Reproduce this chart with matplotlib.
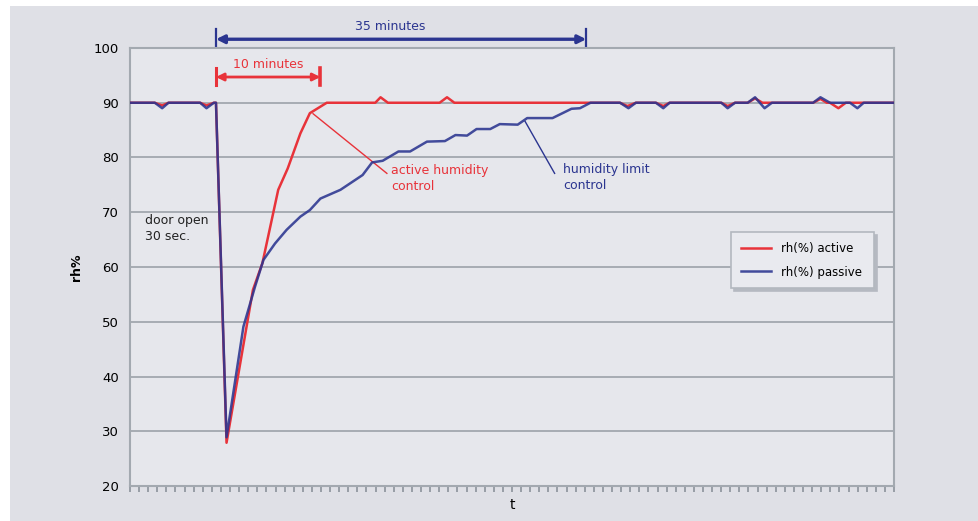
import numpy as np
import matplotlib.pyplot as plt
from matplotlib.patches import Rectangle

plt.rcParams['font.family'] = ['DejaVu Sans']

# time in minutes, t=0 when door opens
t_active = [-8.2, -5.8, -5.1, -4.5, -1.5, -0.9, -0.2, 0.0, 1.0, 2.8, 3.5, 4.4, 5.9, 6.8,
            8.0, 8.9, 10.5, 15.1, 15.6, 16.3, 21.2, 21.9, 22.6, 38.3, 39.0, 39.8, 41.7,
            42.4, 43.0, 47.9, 48.5, 49.2, 50.4, 51.1, 51.8, 56.6, 57.3, 57.9, 58.2, 59.0,
            59.7, 64.3]
rh_active = [90, 90, 89.5, 90, 90, 89.5, 90, 90, 27.9, 48.0, 55.8, 60.7, 74.1, 78.0,
             84.4, 88.1, 90, 90, 91, 90, 90, 91, 90, 90, 89.4, 90, 90,
             89.4, 90, 90, 89.4, 90, 90, 90.8, 90, 90, 90.7, 90, 90, 89,
             90, 90]

t_passive = [-8.2, -5.8, -5.1, -4.5, -1.5, -0.9, -0.2, 0.0, 1.0, 2.6, 3.7, 4.5, 5.6, 6.7,
             8.0, 8.9, 9.9, 11.8, 13.9, 14.8, 15.8, 17.3, 18.4, 20.0, 21.7, 22.7, 23.8,
             24.7, 26.0, 26.9, 28.6, 29.5, 31.9, 33.7, 34.5, 35.5, 38.3, 39.1, 39.8,
             41.7, 42.4, 43.0, 47.9, 48.5, 49.2, 50.4, 51.1, 52.0, 52.7, 56.6, 57.3,
             58.2, 60.1, 60.8, 61.4, 64.3]
rh_passive = [90, 90, 89, 90, 90, 89, 90, 90, 28.9, 49.1, 56.4, 61.3, 64.3, 66.8,
              69.2, 70.4, 72.5, 74.1, 76.8, 79.1, 79.4, 81.1, 81.1, 82.9, 83.0, 84.1, 84.0,
              85.2, 85.2, 86.1, 86.0, 87.2, 87.2, 88.9, 89.0, 90, 90, 89, 90,
              90, 89, 90, 90, 89, 90, 90, 91, 89, 90, 90, 91,
              90, 90, 89, 90, 90]

red = '#e8333a'
blue = '#2b3590'
xmin, xmax = -8.15, 64.27

fig = plt.figure(figsize=(9.79, 5.21), dpi=100)
fig.patch.set_facecolor('white')
fig.patches.append(Rectangle((10/979, 0), 1, 1 - 6/521, transform=fig.transFigure,
                             facecolor='#dfe0e6', edgecolor='none', zorder=-10))
ax = fig.add_axes([130/979, 1 - 486/521, 764/979, 438/521])
ax.set_facecolor('#e6e7ec')

ax.plot(t_active, rh_active, color=red, lw=1.8, label='rh(%) active', zorder=3)
ax.plot(t_passive, rh_passive, color=blue, lw=1.8, alpha=0.88, label='rh(%) passive', zorder=4)

ax.set_xlim(xmin, xmax)
ax.set_ylim(20, 100)
ax.set_yticks(np.arange(20, 101, 10))
ax.set_xticks(np.linspace(xmin, xmax, 85))
ax.set_xticklabels([])
ax.tick_params(axis='x', direction='out', length=4, width=1.2, color='#8c939b')
ax.tick_params(axis='y', length=0, pad=8, labelsize=9.5)
ax.grid(axis='y', color='#a7acb3', lw=1.4)
ax.set_axisbelow(True)
for s in ax.spines.values():
    s.set_color('#a3a9b0')
    s.set_linewidth(1.5)

ax.set_ylabel('rh%', fontsize=9, fontweight='bold', labelpad=8)
ax.set_xlabel('t', fontsize=10, labelpad=1)

# 35 minutes arrow (passive)
ax.annotate('', xy=(35.1, 101.6), xytext=(0, 101.6),
            arrowprops=dict(arrowstyle='<|-|>', color=blue, lw=2.4, shrinkA=0, shrinkB=0,
                            mutation_scale=12), annotation_clip=False)
ax.plot([0, 0], [100.4, 103.5], color=blue, lw=1.6, clip_on=False)
ax.plot([35.1, 35.1], [100.4, 103.5], color=blue, lw=1.6, clip_on=False)
ax.text(16.5, 104.0, '35 minutes', color=blue, fontsize=9, ha='center', va='center')

# 10 minutes arrow (active)
ax.annotate('', xy=(9.9, 94.7), xytext=(0, 94.7),
            arrowprops=dict(arrowstyle='<|-|>', color=red, lw=2.0, shrinkA=0, shrinkB=0,
                            mutation_scale=11), annotation_clip=False)
ax.plot([0, 0], [93.2, 96.3], color=red, lw=2.2)
ax.plot([9.9, 9.9], [93.2, 96.3], color=red, lw=2.6)
ax.text(4.95, 96.9, '10 minutes', color=red, fontsize=9, ha='center', va='center')

# callouts
ax.plot([9.2, 16.2], [88.0, 77.1], color=red, lw=1.0)
ax.text(16.6, 76.2, 'active humidity\ncontrol', color=red, fontsize=9, ha='left', va='center',
        linespacing=1.3)
ax.plot([29.3, 32.1], [86.6, 77.1], color=blue, lw=1.0)
ax.text(32.9, 76.3, 'humidity limit\ncontrol', color=blue, fontsize=9, ha='left', va='center',
        linespacing=1.3)
ax.text(-6.7, 67.0, 'door open\n30 sec.', color='#222222', fontsize=9, ha='left', va='center',
        linespacing=1.3)

leg = ax.legend(loc='center', bbox_to_anchor=(0.779, 0.447, 0.203, 0.137), mode='expand',
                fontsize=8.5, frameon=True, fancybox=False,
                shadow={'color': '#b5b9c1', 'alpha': 1.0},
                handlelength=2.6, borderpad=0.8, labelspacing=0.9)
leg.get_frame().set_facecolor('#e9eaef')
leg.get_frame().set_edgecolor('#b3b8bf')
leg.get_frame().set_linewidth(1.2)

fig.savefig('out.png', dpi=100)
